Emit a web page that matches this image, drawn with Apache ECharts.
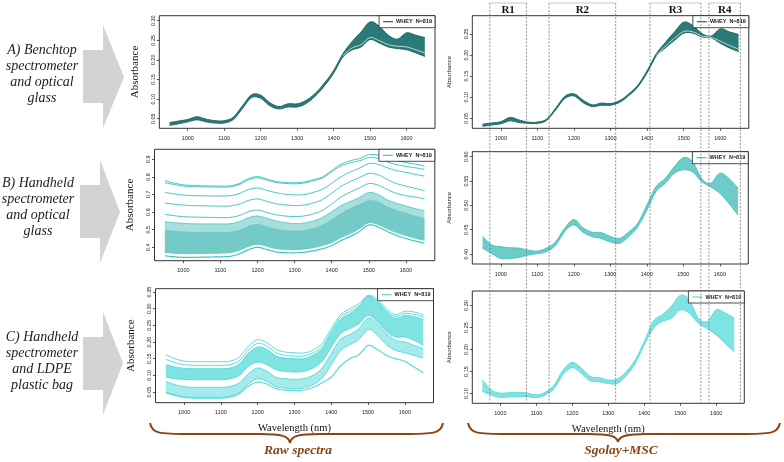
<!DOCTYPE html>
<html><head><meta charset="utf-8">
<script src="https://cdn.jsdelivr.net/npm/echarts@6/dist/echarts.min.js"></script>
<style>html,body{margin:0;padding:0;background:#fff}#c{width:784px;height:462px}</style>
</head><body><div id="c"></div>
<script>
// ---------- DATA ----------
const wavelengths = [950,975,1000,1025,1050,1075,1100,1125,1150,1175,1200,1225,1250,1275,1300,1325,1350,1375,1400,1425,1450,1475,1500,1525,1550,1575,1600,1625,1650];
const xTicks = [1000,1100,1200,1300,1400,1500,1600];

// A) benchtop raw (envelope of 819 spectra)
const rawA_hi = [.040,.044,.048,.055,.049,.045,.045,.054,.083,.111,.110,.091,.081,.088,.088,.097,.115,.141,.173,.215,.246,.271,.297,.286,.263,.253,.269,.263,.257];
const rawA_lo = [.033,.037,.042,.047,.042,.039,.039,.048,.076,.104,.102,.083,.075,.080,.080,.089,.108,.134,.166,.207,.225,.233,.252,.243,.233,.229,.226,.218,.209];
const rawA_gap = [null,null,null,null,null,null,null,null,null,null,null,null,null,null,null,null,null,null,null,.211,.230,.239,.257,.249,.239,.235,.233,.226,.218];
// A) benchtop Sgolay+MSC
const mscA_hi = [.036,.039,.042,.052,.046,.041,.041,.048,.074,.102,.108,.093,.082,.086,.085,.092,.108,.129,.163,.203,.230,.255,.278,.270,.251,.245,.262,.255,.249];
const mscA_lo = [.031,.034,.037,.044,.040,.038,.038,.045,.070,.097,.103,.087,.078,.081,.081,.088,.104,.125,.158,.198,.217,.235,.252,.252,.243,.241,.228,.217,.208];
const mscA_gap = [null,null,null,null,null,null,null,null,null,null,null,null,null,null,null,null,null,null,null,.200,.221,.240,.256,.255,.245,.242,.233,.223,.214];

// B) handheld + glass raw: single outlying spectra and envelopes
const rawB_L1  = [.779,.765,.755,.752,.750,.749,.748,.749,.762,.790,.802,.788,.774,.769,.767,.771,.784,.800,.836,.872,.892,.905,.926,.924,.906,.893,.882,.873,.862];
const rawB_L1b = [.767,.757,.748,.745,.744,.743,.742,.744,.756,.783,.795,.782,.768,.763,.761,.765,.778,.794,.829,.862,.880,.892,.910,.905,.885,.870,.860,.852,.843];
const rawB_L2  = [.712,.703,.697,.694,.693,.692,.692,.693,.705,.728,.737,.724,.710,.702,.698,.700,.712,.730,.764,.800,.828,.850,.876,.872,.852,.836,.826,.815,.805];
const rawB_L3  = [.652,.645,.640,.637,.636,.635,.634,.635,.645,.666,.675,.661,.648,.641,.637,.640,.652,.672,.708,.746,.774,.797,.820,.812,.786,.762,.748,.735,.722];
const rawB_L4  = [.588,.580,.574,.572,.571,.570,.569,.570,.580,.602,.612,.598,.585,.578,.575,.578,.590,.610,.646,.686,.714,.738,.762,.754,.728,.706,.694,.685,.676];
const rawB_bandHi = [.545,.540,.536,.534,.533,.533,.533,.534,.545,.568,.578,.565,.550,.540,.535,.538,.550,.570,.603,.636,.660,.684,.711,.700,.670,.650,.635,.620,.608];
const rawB_coreHi = [.500,.494,.490,.488,.487,.487,.487,.488,.499,.522,.533,.520,.506,.498,.494,.497,.509,.528,.560,.594,.622,.645,.668,.660,.632,.612,.596,.580,.566];
const rawB_bandLo = [.372,.366,.364,.364,.365,.366,.367,.370,.383,.405,.418,.406,.393,.388,.387,.390,.398,.410,.428,.455,.478,.506,.540,.530,.505,.484,.467,.452,.440];
const rawB_min = [.352,.346,.343,.343,.344,.345,.346,.349,.362,.386,.400,.388,.374,.370,.369,.372,.380,.392,.410,.438,.462,.490,.527,.516,.490,.468,.450,.436,.423];
// B) Sgolay+MSC
const mscB_hi = [.436,.419,.415,.413,.412,.408,.406,.412,.425,.453,.471,.454,.445,.444,.436,.432,.445,.463,.500,.538,.555,.579,.598,.590,.555,.545,.566,.555,.535];
const mscB_lo = [.412,.401,.391,.391,.393,.398,.401,.405,.418,.446,.460,.445,.436,.432,.425,.422,.436,.456,.490,.528,.545,.566,.573,.569,.549,.538,.525,.504,.480];

// C) handheld + LDPE bag raw
const rawC_top  = [.162,.150,.143,.141,.141,.141,.141,.143,.155,.188,.207,.198,.178,.170,.168,.167,.176,.196,.240,.282,.300,.315,.340,.328,.300,.282,.292,.290,.282];
const rawC_top2 = [.148,.138,.132,.130,.130,.130,.130,.132,.144,.176,.196,.188,.168,.160,.158,.158,.167,.186,.232,.275,.292,.308,.336,.322,.294,.276,.286,.283,.276];
const rawC_mainHi = [.132,.125,.121,.120,.120,.120,.120,.122,.134,.166,.185,.178,.158,.152,.150,.150,.160,.180,.225,.268,.285,.305,.338,.320,.290,.270,.280,.276,.268];
const rawC_mainLo = [.095,.090,.088,.087,.087,.087,.087,.090,.100,.128,.140,.132,.117,.112,.110,.112,.122,.142,.185,.225,.240,.255,.280,.262,.232,.215,.215,.205,.190];
const rawC_lowHi = [.082,.072,.066,.064,.064,.064,.064,.067,.078,.105,.122,.112,.094,.090,.088,.090,.100,.122,.165,.208,.222,.240,.272,.255,.225,.205,.200,.190,.180];
const rawC_lowLo = [.050,.042,.036,.034,.034,.034,.034,.037,.048,.075,.090,.082,.066,.062,.060,.062,.072,.092,.132,.175,.192,.208,.238,.222,.192,.175,.168,.160,.152];
const rawC_min = [.048,.040,.034,.032,.032,.032,.032,.035,.045,.068,.080,.074,.060,.056,.054,.056,.064,.078,.095,.128,.150,.162,.190,.178,.160,.150,.142,.125,.108];
// C) Sgolay+MSC
const mscC_hi = [.131,.108,.101,.102,.103,.101,.097,.103,.120,.154,.171,.158,.139,.136,.131,.133,.150,.177,.218,.264,.279,.298,.323,.313,.271,.264,.290,.283,.271];
const mscC_lo = [.105,.097,.091,.093,.093,.093,.091,.097,.112,.144,.159,.146,.129,.127,.123,.123,.141,.169,.211,.248,.264,.271,.290,.283,.260,.248,.233,.214,.195];

// spectral regions (nm)
const regionNames = ['R1','R2','R3','R4'];
const regionStart = [970,1132,1408,1569];
const regionEnd   = [1070,1314,1547,1655];

const yTicksA1 = [0.05,0.10,0.15,0.20,0.25,0.30];
const yTicksB1 = [0.4,0.5,0.6,0.7,0.8,0.9];
const yTicksC1 = [0.05,0.10,0.15,0.20,0.25,0.30,0.35];
const yTicksA2 = [0.05,0.10,0.15,0.20,0.25];
const yTicksB2 = [0.40,0.45,0.50,0.55,0.60];
const yTicksC2 = [0.10,0.15,0.20,0.25,0.30];

const legendText = 'WHEY  N=819';
const rowLabels = [
  ['A) Benchtop','spectrometer','and optical','glass'],
  ['B) Handheld','spectrometer','and optical','glass'],
  ['C) Handheld','spectrometer','and LDPE','plastic bag']
];

// ---------- LAYOUT ----------
const panels = [
  {grid:{left:159.3,top:15.7,width:275.7,height:112.6}, y:[0.0255,0.3128], yt:yTicksA1, dec:2, big:true},
  {grid:{left:154.5,top:149.3,width:280.3,height:111.4}, y:[0.324,0.957], yt:yTicksB1, dec:1, big:true},
  {grid:{left:155.5,top:288.7,width:278,height:114}, y:[0.018,0.36], yt:yTicksC1, dec:2, big:true, xname:true},
  {grid:{left:472.3,top:15.7,width:276.5,height:112.6}, y:[0.0263,0.2934], yt:yTicksA2, dec:2, big:false},
  {grid:{left:472.3,top:151.7,width:276,height:112.3}, y:[0.3795,0.6103], yt:yTicksB2, dec:2, big:false},
  {grid:{left:472.3,top:291,width:272,height:112.3}, y:[0.078,0.333], yt:yTicksC2, dec:2, big:false, xname:true}
];

// Catmull-Rom smoothing of pixel points (rendering only)
function spline(P, seg){
  seg = seg || 6;
  const n = P.length, out = [];
  if (n < 3) return P.slice();
  for (let i=0;i<n-1;i++){
    const p0=P[Math.max(i-1,0)], p1=P[i], p2=P[i+1], p3=P[Math.min(i+2,n-1)];
    for (let s=0;s<seg;s++){
      const t=s/seg, t2=t*t, t3=t2*t;
      const f=(a,b,c,d)=>0.5*((2*b)+(-a+c)*t+(2*a-5*b+4*c-d)*t2+(-a+3*b-3*c+d)*t3);
      out.push([f(p0[0],p1[0],p2[0],p3[0]), f(p0[1],p1[1],p2[1],p3[1])]);
    }
  }
  out.push(P[n-1]);
  return out;
}
function coordsOf(api, arr){
  const segs=[]; let cur=[];
  wavelengths.forEach((w,i)=>{
    if (arr[i]==null){ if(cur.length) segs.push(cur); cur=[]; }
    else cur.push(api.coord([w, arr[i]]));
  });
  if (cur.length) segs.push(cur);
  return segs;
}
// filled envelope between two spectra
function band(g, lo, hi, fill, op, edge, ew){
  return {
    type:'custom', xAxisIndex:g, yAxisIndex:g, silent:true, z:2,
    data: wavelengths.map((w,i)=>[w, lo[i], hi[i]]), encode:{x:0, y:[1,2]},
    renderItem:(params, api)=>{
      if (params.dataIndex !== 0) return null;
      const top = spline(coordsOf(api, hi)[0]);
      const bot = spline(coordsOf(api, lo)[0]);
      const ch = [{type:'polygon', shape:{points: top.concat(bot.slice().reverse())}, style:{fill:fill, opacity:op}}];
      if (edge){
        ch.push({type:'polyline', shape:{points:top}, style:{stroke:edge, lineWidth:ew||1, fill:null}});
        ch.push({type:'polyline', shape:{points:bot}, style:{stroke:edge, lineWidth:ew||1, fill:null}});
      }
      return {type:'group', children:ch};
    }
  };
}
// single spectrum
function spec(g, arr, color, w){
  return {
    type:'custom', xAxisIndex:g, yAxisIndex:g, silent:true, z:3,
    data: wavelengths.map((wl,i)=>[wl, arr[i]==null ? NaN : arr[i]]), encode:{x:0, y:1},
    renderItem:(params, api)=>{
      if (params.dataIndex !== 0) return null;
      return {type:'group', children: coordsOf(api, arr).map(s=>({type:'polyline', shape:{points:spline(s)}, style:{stroke:color, lineWidth:w, fill:null}}))};
    }
  };
}
function legendProxy(g, name, color){
  return {type:'line', name:name, xAxisIndex:g, yAxisIndex:g, data:[], symbol:'none', lineStyle:{color:color}, itemStyle:{color:color}};
}

const cA = '#2a7a77', cAl = '#1c6866';
const cB = '#74cac7', cBl = '#3fc6c2';
const cC = '#7fe3e2', cCl = '#5adbdb';

let series = [];
// A raw
series.push(band(0, rawA_lo, rawA_hi, cA, 1, cAl, 1));
series.push(spec(0, rawA_gap, '#e8f2f1', 0.8));
// B raw
series.push(band(1, rawB_bandLo, rawB_bandHi, '#a6dfdc', 1, cBl, 0.8));
series.push(band(1, rawB_bandLo, rawB_coreHi, cB, 1));
[rawB_L1, rawB_L1b, rawB_L2, rawB_L3, rawB_L4].forEach(a=>series.push(spec(1, a, cBl, 1)));
series.push(spec(1, rawB_min, cBl, 1.2));
// C raw
series.push(band(2, rawC_mainLo, rawC_mainHi, cC, 1, cCl, 1));
series.push(band(2, rawC_lowLo, rawC_lowHi, cC, 0.7, cCl, 1));
[rawC_top, rawC_top2].forEach(a=>series.push(spec(2, a, cCl, 1)));
series.push(spec(2, rawC_min, cCl, 1.2));
// MSC panels
series.push(band(3, mscA_lo, mscA_hi, cA, 1, cAl, 1));
series.push(spec(3, mscA_gap, '#e8f2f1', 0.8));
series.push(band(4, mscB_lo, mscB_hi, '#6fcbc7', 1, cBl, 1));
series.push(band(5, mscC_lo, mscC_hi, cC, 1, cCl, 1));

const legendNames = ['A1','B1','C1','A2','B2','C2'];
const legendColors = [cAl, cBl, cCl, cAl, cBl, cCl];
legendNames.forEach((n,i)=>series.push(legendProxy(i, n, legendColors[i])));

const option = {
  animation:false,
  backgroundColor:'#fff',
  grid: panels.map(p=>Object.assign({show:true, borderColor:'#333', borderWidth:1, backgroundColor:'transparent'}, p.grid)),
  xAxis: panels.map((p,i)=>({
    type:'value', gridIndex:i, min:922, max:1678,
    axisLine:{show:false}, splitLine:{show:false},
    axisTick:{show:true, customValues:xTicks, length:2.5, lineStyle:{color:'#333', width:0.8}},
    axisLabel:{customValues:xTicks, fontSize:5.5, color:'#222', margin:7, fontFamily:'Liberation Sans', formatter:(v)=>String(v)},
    name: p.xname ? 'Wavelength (nm)' : '', nameLocation:'middle', nameGap:20,
    nameTextStyle:{fontFamily:'Liberation Serif', fontSize:10.5, color:'#111'}
  })),
  yAxis: panels.map((p,i)=>({
    type:'value', gridIndex:i, min:p.y[0], max:p.y[1],
    axisLine:{show:false}, splitLine:{show:false},
    axisTick:{show:true, customValues:p.yt, length:2.5, lineStyle:{color:'#333', width:0.8}},
    axisLabel:{customValues:p.yt, rotate:90, fontSize:5.5, color:'#222', margin:3, fontFamily:'Liberation Sans',
      formatter:(v)=>(+v).toFixed(p.dec)},
    name:'Absorbance', nameLocation:'middle', nameGap: p.big ? 19 : 20,
    nameTextStyle: p.big ? {fontFamily:'Liberation Serif', fontSize:11, color:'#111'} : {fontFamily:'Liberation Sans', fontSize:6, color:'#222'}
  })),
  legend: panels.map((p,i)=>({
    data:[legendNames[i]], right: 784-(p.grid.left+p.grid.width), top:p.grid.top,
    orient:'horizontal', icon:'rect', itemWidth:10, itemHeight:1.2, itemGap:2,
    padding:[3,3,3,4], borderColor:'#222', borderWidth:0.8, backgroundColor:'#fff',
    selectedMode:false, formatter:()=>legendText,
    textStyle:{fontSize:5.5, fontWeight:'bold', color:'#222', fontFamily:'Liberation Sans', padding:[0,0,0,-2]}
  })),
  series: series
};

const chart = echarts.init(document.getElementById('c'), null, {renderer:'canvas'});
chart.setOption(option);

// ---------- ANNOTATIONS ----------
const g = [];
const gray = '#d3d3d3';
const arrows = [
  {bx:83, by1:50, by2:103, hx:103, hy1:25, hy2:128, tx:124, ty:77},
  {bx:80, by1:185, by2:238, hx:100, hy1:160, hy2:263, tx:120, ty:212},
  {bx:83, by1:337, by2:390, hx:103, hy1:312, hy2:415, tx:123, ty:363}
];
arrows.forEach(a=>{
  g.push({type:'polygon', shape:{points:[[a.bx,a.by1],[a.hx,a.by1],[a.hx,a.hy1],[a.tx,a.ty],[a.hx,a.hy2],[a.hx,a.by2],[a.bx,a.by2]]},
    style:{fill:gray}, z:1});
});
const labelPos = [{x:42, y:50},{x:38, y:183},{x:42, y:337}];
rowLabels.forEach((lines,r)=>{
  lines.forEach((t,k)=>{
    g.push({type:'text', x:labelPos[r].x, y:labelPos[r].y + k*16.2, z:5,
      style:{text:t, font:'italic 14px "Liberation Serif"', fill:'#222', textAlign:'center', textVerticalAlign:'middle'}});
  });
});

// region lines & boxes, positioned through the MSC x-axis
const px = w => chart.convertToPixel({xAxisIndex:3}, w);
regionNames.forEach((n,i)=>{
  const x1 = px(regionStart[i]), x2 = px(regionEnd[i]);
  [x1,x2].forEach(x=>{
    g.push({type:'line', shape:{x1:x, y1:3, x2:x, y2:404}, style:{stroke:'#7a7a7a', lineWidth:0.8, lineDash:[2,1.5]}, z:50});
  });
  g.push({type:'line', shape:{x1:x1, y1:3, x2:x2, y2:3}, style:{stroke:'#bbbbbb', lineWidth:0.8}, z:50});
  g.push({type:'text', x:(x1+x2)/2, y:10, z:51,
    style:{text:n, font:'bold 11px "Liberation Serif"', fill:'#111', textAlign:'center', textVerticalAlign:'middle'}});
});

// braces
const brown = '#8b4513';
function brace(xl, xr, xm, yTop, yMid, yTip){
  const items = [];
  const st = {stroke:brown, lineWidth:2, fill:'none'};
  items.push({type:'bezierCurve', shape:{x1:xl, y1:yTop, cpx1:xl+2, cpy1:yMid, cpx2:xl+10, cpy2:yMid, x2:xl+40, y2:yMid}, style:st});
  items.push({type:'line', shape:{x1:xl+40, y1:yMid, x2:xm-30, y2:yMid}, style:st});
  items.push({type:'bezierCurve', shape:{x1:xm-30, y1:yMid, cpx1:xm-8, cpy1:yMid, cpx2:xm-1, cpy2:yMid+2, x2:xm, y2:yTip}, style:st});
  items.push({type:'bezierCurve', shape:{x1:xm, y1:yTip, cpx1:xm+1, cpy1:yMid+2, cpx2:xm+8, cpy2:yMid, x2:xm+30, y2:yMid}, style:st});
  items.push({type:'line', shape:{x1:xm+30, y1:yMid, x2:xr-40, y2:yMid}, style:st});
  items.push({type:'bezierCurve', shape:{x1:xr-40, y1:yMid, cpx1:xr-10, cpy1:yMid, cpx2:xr-2, cpy2:yMid, x2:xr, y2:yTop}, style:st});
  return items;
}
g.push(...brace(150, 443, 290, 423, 434, 443));
g.push(...brace(468, 780, 618, 423, 434, 442));
g.push({type:'text', x:298, y:451, style:{text:'Raw spectra', font:'italic bold 13.5px "Liberation Serif"', fill:brown, textAlign:'center', textVerticalAlign:'middle'}});
g.push({type:'text', x:621, y:451, style:{text:'Sgolay+MSC', font:'italic bold 13.5px "Liberation Serif"', fill:brown, textAlign:'center', textVerticalAlign:'middle'}});

chart.setOption({graphic: g});
</script>
</body></html>
